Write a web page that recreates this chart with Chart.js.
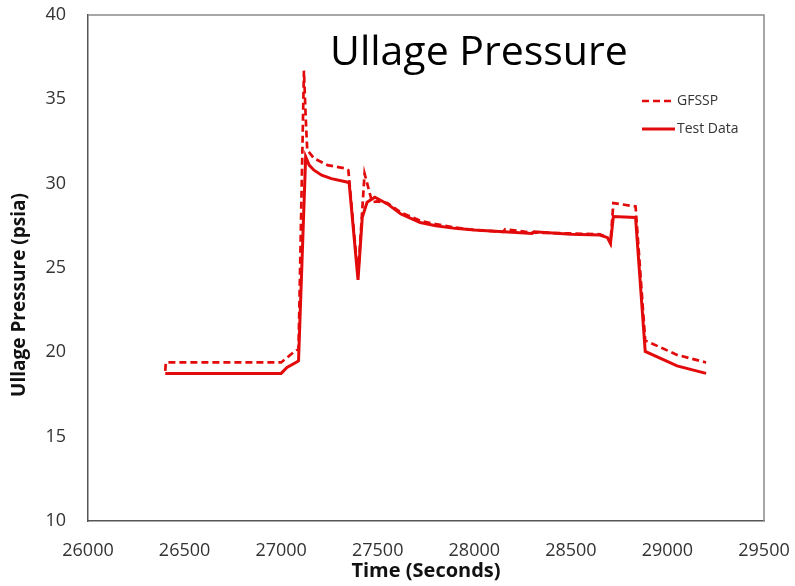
<!DOCTYPE html>
<html>
<head>
<meta charset="utf-8">
<title>Ullage Pressure</title>
<script src="https://cdn.jsdelivr.net/npm/chart.js@4.4.1/dist/chart.umd.min.js"></script>
<style>
  html, body { margin: 0; padding: 0; background: #fff; }
  canvas { display: block; }
</style>
</head>
<body>
<canvas id="canvas1" width="795" height="586"></canvas>
<script>
// GFSSP model run (dashed)
const gfsspTime = [26400, 26403, 27000, 27075, 27090, 27118, 27127, 27135, 27170, 27240, 27335, 27348,
    27398, 27432, 27471, 27497, 27550, 27620, 27720, 27800, 27900, 28000, 28150, 28160, 28300, 28500,
    28650, 28690, 28705, 28720, 28835, 28885, 29050, 29200];
const gfsspPsia = [18.9, 19.4, 19.4, 20.1, 20.2, 36.7, 34.0, 32.0, 31.5, 31.1, 30.9, 30.8,
    24.5, 30.6, 28.9, 28.95, 28.85, 28.3, 27.8, 27.6, 27.4, 27.25, 27.15, 27.3, 27.1, 27.05,
    27.0, 26.8, 26.5, 28.85, 28.65, 20.7, 19.85, 19.4];

// measured test data (solid)
const testTime = [26400, 27000, 27030, 27085, 27090, 27127, 27145, 27170, 27210, 27260, 27340, 27352,
    27398, 27420, 27445, 27485, 27550, 27620, 27720, 27800, 27900, 28000, 28150, 28300, 28310, 28500,
    28650, 28690, 28705, 28720, 28835, 28885, 29050, 29200];
const testPsia = [18.75, 18.75, 19.1, 19.45, 19.5, 31.6, 31.1, 30.8, 30.5, 30.3, 30.1, 30.05,
    24.3, 28.0, 28.9, 29.2, 28.8, 28.2, 27.7, 27.5, 27.35, 27.25, 27.15, 27.05, 27.15, 27.0,
    26.95, 26.8, 26.45, 28.05, 28.0, 20.05, 19.2, 18.75];

const timeMin = 26000, timeMax = 29500, timeStep = 500;
const psiaMin = 10, psiaMax = 40, psiaStep = 5;

const lineRed = '#e20a0a';
const fontFamily = '"Open Sans", "Noto Sans", sans-serif';

function toPoints(xs, ys) {
    return xs.map((x, i) => ({ x: x, y: ys[i] }));
}

// fixed scale boxes, no extra room for overhanging tick labels
function fixBox(size, key) {
    return function (scale) {
        scale[key] = size;
        scale.paddingTop = 0;
        scale.paddingBottom = 0;
        scale.paddingLeft = 0;
        scale.paddingRight = 0;
    };
}

// title, legend and y-axis caption drawn by hand, plus the top/right frame
const plotDecor = {
    id: 'plotDecor',
    beforeDatasetsDraw(chart) {
        const { ctx, chartArea } = chart;
        ctx.save();
        ctx.strokeStyle = '#8a8a8a';
        ctx.lineWidth = 1.5;
        ctx.beginPath();
        ctx.moveTo(chartArea.left, chartArea.top);
        ctx.lineTo(chartArea.right, chartArea.top);
        ctx.lineTo(chartArea.right, chartArea.bottom);
        ctx.stroke();
        ctx.restore();
    },
    afterDraw(chart) {
        const { ctx, chartArea } = chart;
        ctx.save();
        ctx.fillStyle = '#000';
        ctx.font = '41px ' + fontFamily;
        ctx.textAlign = 'left';
        ctx.textBaseline = 'alphabetic';
        ctx.fillText('Ullage Pressure', chartArea.left + 242, chartArea.top + 50);

        // y caption sits a bit below the middle of the axis
        ctx.save();
        ctx.translate(20, chartArea.top + 280);
        ctx.rotate(-Math.PI / 2);
        ctx.font = 'bold 19px ' + fontFamily;
        ctx.fillStyle = '#111';
        ctx.textAlign = 'center';
        ctx.textBaseline = 'middle';
        ctx.fillText('Ullage Pressure (psia)', 0, 0);
        ctx.restore();

        // legend
        const lx = chartArea.left + 554;
        let ly = chartArea.top + 86;
        ctx.font = '14px ' + fontFamily;
        ctx.textBaseline = 'middle';
        chart.data.datasets.forEach(ds => {
            ctx.strokeStyle = ds.borderColor;
            ctx.lineWidth = ds.borderWidth;
            ctx.setLineDash(ds.borderDash || []);
            ctx.beginPath();
            ctx.moveTo(lx, ly);
            ctx.lineTo(lx + 33, ly);
            ctx.stroke();
            ctx.setLineDash([]);
            ctx.fillStyle = '#333';
            ctx.fillText(ds.label, lx + 35, ly);
            ly += 28;
        });
        ctx.restore();
    }
};

const ctx1 = document.getElementById('canvas1').getContext('2d');

const myChart1 = new Chart(ctx1, {
    type: 'line',
    data: {
        datasets: [{
            label: 'GFSSP',
            data: toPoints(gfsspTime, gfsspPsia),
            borderColor: lineRed,
            borderWidth: 2.7,
            borderDash: [7, 4],
            pointRadius: 0,
            tension: 0
        }, {
            label: 'Test Data',
            data: toPoints(testTime, testPsia),
            borderColor: lineRed,
            borderWidth: 3,
            pointRadius: 0,
            tension: 0
        }]
    },
    options: {
        responsive: false,
        animation: false,
        layout: { padding: { top: 15, right: 31, left: 0, bottom: 0 } },
        plugins: {
            legend: { display: false },
            tooltip: { enabled: false }
        },
        scales: {
            x: {
                type: 'linear',
                min: timeMin,
                max: timeMax,
                grid: { display: false, drawTicks: false },
                border: { display: true, color: '#555', width: 1.5 },
                ticks: {
                    stepSize: timeStep,
                    padding: 19,
                    color: '#333',
                    font: { family: fontFamily, size: 18 },
                    callback: v => String(v)
                },
                title: {
                    display: true,
                    text: 'Time (Seconds)',
                    color: '#111',
                    font: { family: fontFamily, size: 20, weight: 'bold' },
                    padding: { top: 0, bottom: 3 }
                },
                afterFit: fixBox(65, 'height')
            },
            y: {
                min: psiaMin,
                max: psiaMax,
                grid: { display: false, drawTicks: false },
                border: { display: true, color: '#555', width: 1.5 },
                ticks: {
                    stepSize: psiaStep,
                    padding: 22,
                    color: '#333',
                    font: { family: fontFamily, size: 18 }
                },
                title: { display: false },
                afterFit: fixBox(88, 'width')
            }
        }
    },
    plugins: [plotDecor]
});
</script>
</body>
</html>
